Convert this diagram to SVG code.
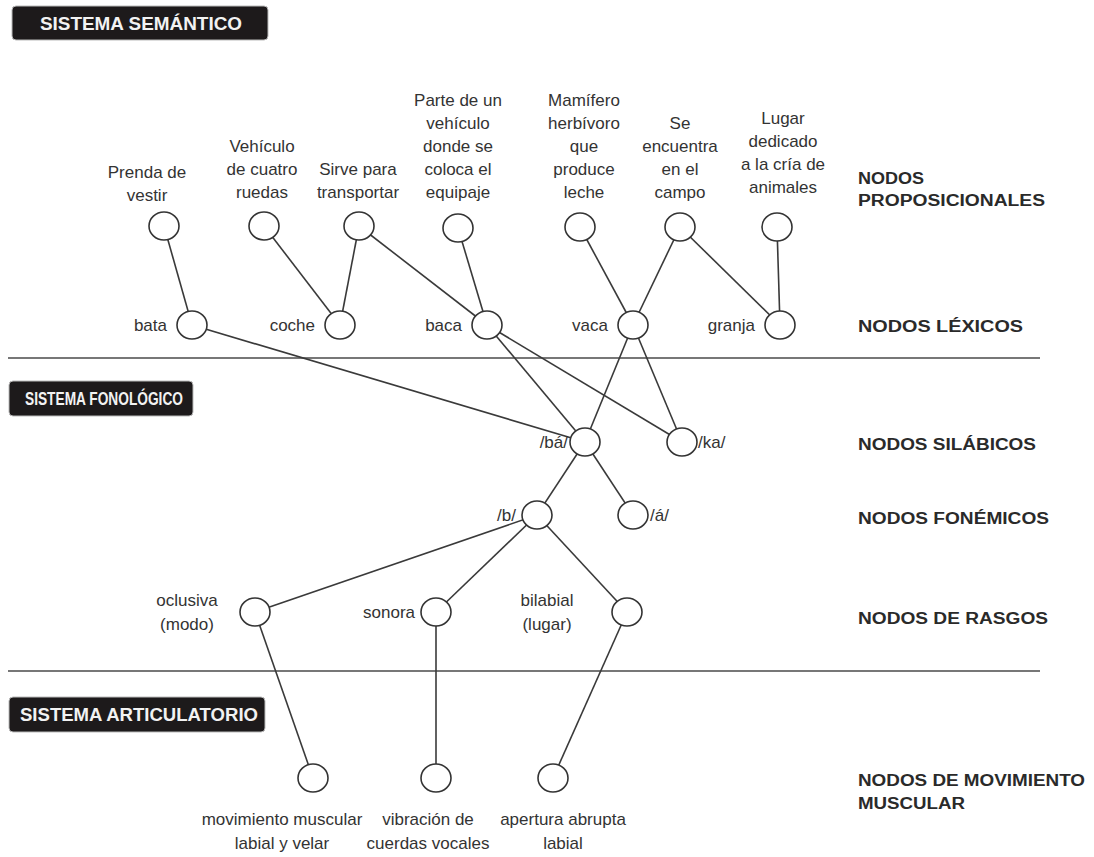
<svg xmlns="http://www.w3.org/2000/svg" width="1094" height="857" viewBox="0 0 1094 857">
<style>
.hdr{fill:#1d1a1b;stroke:#bbb;stroke-width:1}
.ht{font-family:"Liberation Sans",Arial,sans-serif;font-weight:bold;font-size:19px;fill:#f2f2f2}
.lbl{font-family:"Liberation Sans",Arial,sans-serif;font-size:17px;fill:#333;text-anchor:middle}
.lr{font-family:"Liberation Sans",Arial,sans-serif;font-size:17px;fill:#333;text-anchor:end}
.ll{font-family:"Liberation Sans",Arial,sans-serif;font-size:17px;fill:#333;text-anchor:start}
.side{font-family:"Liberation Sans",Arial,sans-serif;font-weight:bold;font-size:16px;fill:#2a2a2a}
.n{fill:#fff;stroke:#333;stroke-width:1.6}
.e{stroke:#3a3a3a;stroke-width:1.6;fill:none}
.sep{stroke:#777;stroke-width:2}
</style>
<rect width="1094" height="857" fill="#fff"/>
<g id="headers">
<rect class="hdr" x="12" y="6" width="256" height="34" rx="4"/>
<text class="ht" x="40" y="30" textLength="202" lengthAdjust="spacingAndGlyphs">SISTEMA SEMÁNTICO</text>
<rect class="hdr" x="9" y="381" width="184" height="35" rx="4"/>
<text class="ht" x="25" y="405" textLength="158" lengthAdjust="spacingAndGlyphs">SISTEMA FONOLÓGICO</text>
<rect class="hdr" x="9" y="697" width="256" height="35" rx="4"/>
<text class="ht" x="20" y="721" textLength="238" lengthAdjust="spacingAndGlyphs">SISTEMA ARTICULATORIO</text>
</g>
<g id="separators">
<line class="sep" x1="8" y1="358" x2="1040" y2="358"/>
<line class="sep" x1="8" y1="671" x2="1040" y2="671"/>
</g>
<g id="levels">
<text class="side" x="858" y="184" textLength="66" lengthAdjust="spacingAndGlyphs">NODOS</text>
<text class="side" x="858" y="206" textLength="187" lengthAdjust="spacingAndGlyphs">PROPOSICIONALES</text>
<text class="side" x="858" y="332" textLength="165" lengthAdjust="spacingAndGlyphs">NODOS LÉXICOS</text>
<text class="side" x="858" y="450" textLength="178" lengthAdjust="spacingAndGlyphs">NODOS SILÁBICOS</text>
<text class="side" x="858" y="524" textLength="191" lengthAdjust="spacingAndGlyphs">NODOS FONÉMICOS</text>
<text class="side" x="858" y="624" textLength="190" lengthAdjust="spacingAndGlyphs">NODOS DE RASGOS</text>
<text class="side" x="858" y="786" textLength="227" lengthAdjust="spacingAndGlyphs">NODOS DE MOVIMIENTO</text>
<text class="side" x="858" y="809" textLength="107" lengthAdjust="spacingAndGlyphs">MUSCULAR</text>
</g>
<g id="connectors">
<line class="e" x1="164" y1="226" x2="192" y2="325"/>
<line class="e" x1="264" y1="226" x2="340" y2="325"/>
<line class="e" x1="359" y1="226" x2="340" y2="325"/>
<line class="e" x1="359" y1="226" x2="487" y2="325"/>
<line class="e" x1="458" y1="228" x2="487" y2="325"/>
<line class="e" x1="580" y1="227" x2="633" y2="325"/>
<line class="e" x1="680" y1="227" x2="633" y2="325"/>
<line class="e" x1="680" y1="227" x2="780" y2="325"/>
<line class="e" x1="777" y1="227" x2="780" y2="325"/>
<line class="e" x1="192" y1="325" x2="585" y2="442"/>
<line class="e" x1="487" y1="325" x2="585" y2="442"/>
<line class="e" x1="487" y1="325" x2="682" y2="442"/>
<line class="e" x1="633" y1="325" x2="585" y2="442"/>
<line class="e" x1="633" y1="325" x2="682" y2="442"/>
<line class="e" x1="585" y1="442" x2="537" y2="515"/>
<line class="e" x1="585" y1="442" x2="633" y2="515"/>
<line class="e" x1="537" y1="515" x2="255" y2="612"/>
<line class="e" x1="537" y1="515" x2="436" y2="612"/>
<line class="e" x1="537" y1="515" x2="627" y2="612"/>
<line class="e" x1="255" y1="612" x2="313" y2="778"/>
<line class="e" x1="436" y1="612" x2="436" y2="778"/>
<line class="e" x1="627" y1="612" x2="553" y2="778"/>
</g>
<g id="p-prenda"><ellipse class="n" cx="164" cy="226" rx="15" ry="14"/><text class="lbl" x="147" y="178">Prenda de</text><text class="lbl" x="147" y="201">vestir</text></g>
<g id="p-vehiculo"><ellipse class="n" cx="264" cy="226" rx="15" ry="14"/><text class="lbl" x="262" y="152">Vehículo</text><text class="lbl" x="262" y="175">de cuatro</text><text class="lbl" x="262" y="198">ruedas</text></g>
<g id="p-sirve"><ellipse class="n" cx="359" cy="226" rx="15" ry="14"/><text class="lbl" x="358" y="175">Sirve para</text><text class="lbl" x="358" y="198">transportar</text></g>
<g id="p-parte"><ellipse class="n" cx="458" cy="228" rx="15" ry="14"/><text class="lbl" x="458" y="106">Parte de un</text><text class="lbl" x="458" y="129">vehículo</text><text class="lbl" x="458" y="152">donde se</text><text class="lbl" x="458" y="175">coloca el</text><text class="lbl" x="458" y="198">equipaje</text></g>
<g id="p-mamifero"><ellipse class="n" cx="580" cy="227" rx="15" ry="14"/><text class="lbl" x="584" y="106">Mamífero</text><text class="lbl" x="584" y="129">herbívoro</text><text class="lbl" x="584" y="152">que</text><text class="lbl" x="584" y="175">produce</text><text class="lbl" x="584" y="198">leche</text></g>
<g id="p-campo"><ellipse class="n" cx="680" cy="227" rx="15" ry="14"/><text class="lbl" x="680" y="129">Se</text><text class="lbl" x="680" y="152">encuentra</text><text class="lbl" x="680" y="175">en el</text><text class="lbl" x="680" y="198">campo</text></g>
<g id="p-lugar"><ellipse class="n" cx="777" cy="227" rx="15" ry="14"/><text class="lbl" x="783" y="124">Lugar</text><text class="lbl" x="783" y="147">dedicado</text><text class="lbl" x="783" y="170">a la cría de</text><text class="lbl" x="783" y="193">animales</text></g>
<g id="l-bata"><ellipse class="n" cx="192" cy="325" rx="15" ry="14"/><text class="lr" x="167" y="331">bata</text></g>
<g id="l-coche"><ellipse class="n" cx="340" cy="325" rx="15" ry="14"/><text class="lr" x="315" y="331">coche</text></g>
<g id="l-baca"><ellipse class="n" cx="487" cy="325" rx="15" ry="14"/><text class="lr" x="462" y="331">baca</text></g>
<g id="l-vaca"><ellipse class="n" cx="633" cy="325" rx="15" ry="14"/><text class="lr" x="608" y="331">vaca</text></g>
<g id="l-granja"><ellipse class="n" cx="780" cy="325" rx="15" ry="14"/><text class="lr" x="755" y="331">granja</text></g>
<g id="s-ba"><ellipse class="n" cx="585" cy="442" rx="15" ry="14"/><text class="lr" x="568" y="448">/bá/</text></g>
<g id="s-ka"><ellipse class="n" cx="682" cy="442" rx="15" ry="14"/><text class="ll" x="698" y="448">/ka/</text></g>
<g id="f-b"><ellipse class="n" cx="537" cy="515" rx="15" ry="14"/><text class="lr" x="516" y="521">/b/</text></g>
<g id="f-a"><ellipse class="n" cx="633" cy="515" rx="15" ry="14"/><text class="ll" x="650" y="521">/á/</text></g>
<g id="r-oclusiva"><ellipse class="n" cx="255" cy="612" rx="15" ry="14"/><text class="lbl" x="187" y="606">oclusiva</text><text class="lbl" x="187" y="630">(modo)</text></g>
<g id="r-sonora"><ellipse class="n" cx="436" cy="612" rx="15" ry="14"/><text class="lr" x="415" y="618">sonora</text></g>
<g id="r-bilabial"><ellipse class="n" cx="627" cy="612" rx="15" ry="14"/><text class="lbl" x="547" y="606">bilabial</text><text class="lbl" x="547" y="630">(lugar)</text></g>
<g id="m-labial"><ellipse class="n" cx="313" cy="778" rx="15" ry="14"/><text class="lbl" x="282" y="825">movimiento muscular</text><text class="lbl" x="282" y="849">labial y velar</text></g>
<g id="m-vibracion"><ellipse class="n" cx="436" cy="778" rx="15" ry="14"/><text class="lbl" x="428" y="825">vibración de</text><text class="lbl" x="428" y="849">cuerdas vocales</text></g>
<g id="m-apertura"><ellipse class="n" cx="553" cy="778" rx="15" ry="14"/><text class="lbl" x="563" y="825">apertura abrupta</text><text class="lbl" x="563" y="849">labial</text></g>
</svg>
